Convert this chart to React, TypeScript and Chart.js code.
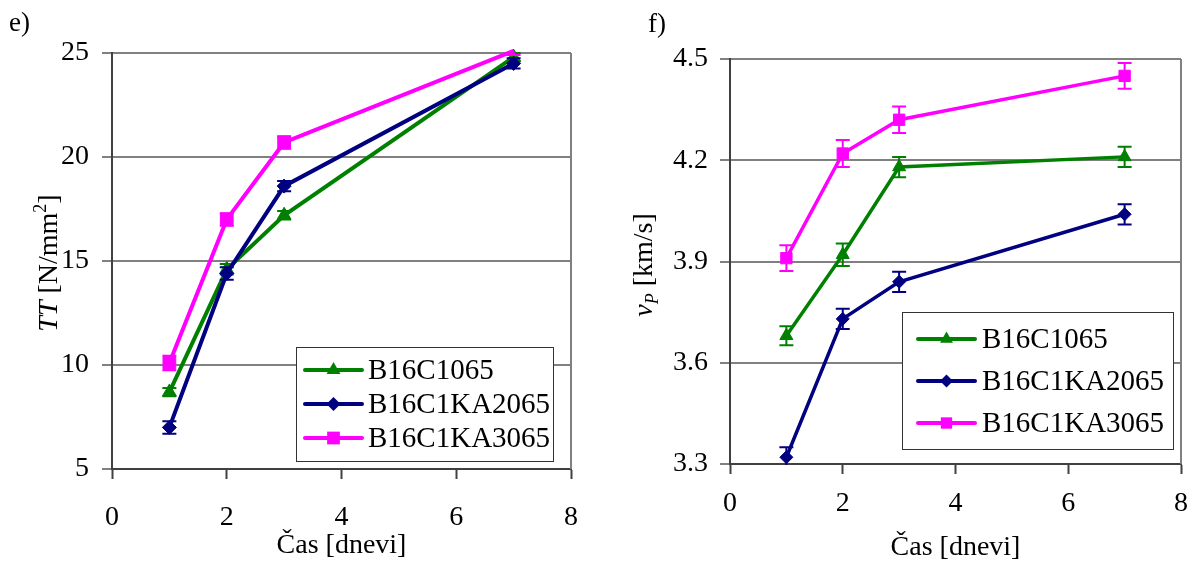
import React, { useEffect, useRef } from 'react';
import { Chart, registerables } from 'chart.js';

Chart.register(...registerables);

// ---------- data ----------
const days = [1, 2, 3, 7];
const seriesNames = ['B16C1065', 'B16C1KA2065', 'B16C1KA3065'];
const seriesColors = ['#008000', '#000080', '#FF00FF'];
const seriesMarkers = ['triangle', 'rectRot', 'rect'];

// e) TT [N/mm2]
const ttB16C1065 = [8.7, 14.6, 17.2, 24.8];
const ttB16C1KA2065 = [7.0, 14.4, 18.6, 24.5];
const ttB16C1KA3065 = [10.1, 17.0, 20.7, 25.1];
const ttErrB16C1065 = [0.2, 0.25, 0.2, 0.2];
const ttErrB16C1KA2065 = [0.3, 0.3, 0.25, 0.25];
const ttErrB16C1KA3065 = [0.35, 0.3, 0.3, 0.2];

// f) vP [km/s]
const vpB16C1065 = [3.68, 3.92, 4.18, 4.21];
const vpB16C1KA2065 = [3.32, 3.73, 3.84, 4.04];
const vpB16C1KA3065 = [3.91, 4.22, 4.32, 4.45];
const vpErrB16C1065 = [0.028, 0.033, 0.03, 0.03];
const vpErrB16C1KA2065 = [0.03, 0.03, 0.03, 0.03];
const vpErrB16C1KA3065 = [0.038, 0.04, 0.039, 0.038];

const xTicks = [0, 2, 4, 6, 8];
const ttTicks = [5, 10, 15, 20, 25];
const vpTicks = [3.3, 3.6, 3.9, 4.2, 4.5];
const xTitle = 'Čas [dnevi]';

// ---------- styling ----------
const FONT = '"Liberation Serif", "Times New Roman", serif';
const H = 562;
const GRID = '#808080';
const AXIS = '#404040';

type Part = { t: string; italic?: boolean; size: number; dy?: number };
type Spec = {
  width: number;
  area: { left: number; top: number; right: number; bottom: number };
  yMin: number;
  yMax: number;
  yTicks: number[];
  yFormat: (v: number) => string;
  series: { values: number[]; errors: number[] }[];
  lineWidth: number;
  pointRadius: number[];
  cap: number;
  xPad: number;
  yPad: number;
  panel: { text: string; x: number; y: number };
  xTitleY: number;
  yTitle: { x: number; y: number; parts: Part[] };
  legend: { left: number; top: number; right: number; bottom: number; rows: number[]; lineX0: number; lineX1: number; textX: number; r: number[] };
};

function drawMarker(ctx: CanvasRenderingContext2D, style: string, x: number, y: number, r: number, color: string) {
  ctx.save();
  ctx.fillStyle = color;
  ctx.beginPath();
  if (style === 'triangle') {
    for (let k = 0; k < 3; k++) {
      const a = (k * 2 * Math.PI) / 3;
      const px = x + Math.sin(a) * r;
      const py = y - Math.cos(a) * r;
      if (k === 0) ctx.moveTo(px, py); else ctx.lineTo(px, py);
    }
  } else if (style === 'rectRot') {
    ctx.moveTo(x, y - r);
    ctx.lineTo(x + r, y);
    ctx.lineTo(x, y + r);
    ctx.lineTo(x - r, y);
  } else {
    const s = r * Math.SQRT1_2;
    ctx.rect(x - s, y - s, 2 * s, 2 * s);
  }
  ctx.closePath();
  ctx.fill();
  ctx.restore();
}

function makeChart(canvas: HTMLCanvasElement, spec: Spec) {
  const errorBars = {
    id: 'errorBars',
    afterDatasetDraw(chart: any, args: any) {
      const ds = chart.data.datasets[args.index];
      const errs: number[] = ds.errors;
      const yScale = chart.scales.y;
      const ctx = chart.ctx;
      const ca = chart.chartArea;
      ctx.save();
      ctx.beginPath();
      ctx.rect(ca.left - 20, ca.top - 1, ca.right - ca.left + 40, ca.bottom - ca.top + 2);
      ctx.clip();
      ctx.strokeStyle = ds.borderColor;
      ctx.lineWidth = 2;
      args.meta.data.forEach((el: any, j: number) => {
        const v = ds.data[j].y;
        const yt = yScale.getPixelForValue(v + errs[j]);
        const yb = yScale.getPixelForValue(v - errs[j]);
        const x = el.x;
        ctx.beginPath();
        ctx.moveTo(x, yt);
        ctx.lineTo(x, yb);
        ctx.moveTo(x - spec.cap, yt);
        ctx.lineTo(x + spec.cap, yt);
        ctx.moveTo(x - spec.cap, yb);
        ctx.lineTo(x + spec.cap, yb);
        ctx.stroke();
      });
      ctx.restore();
    },
  };

  const frame = {
    id: 'frame',
    beforeDatasetsDraw(chart: any) {
      const { ctx, chartArea } = chart;
      ctx.save();
      ctx.strokeStyle = GRID;
      ctx.lineWidth = 2;
      ctx.beginPath();
      ctx.moveTo(chartArea.right, chartArea.top);
      ctx.lineTo(chartArea.right, chartArea.bottom);
      ctx.stroke();
      ctx.restore();
    },
  };

  const texts = {
    id: 'texts',
    afterDraw(chart: any) {
      const ctx: CanvasRenderingContext2D = chart.ctx;
      const ca = chart.chartArea;
      ctx.save();
      ctx.fillStyle = '#000';
      // panel label
      ctx.font = `27px ${FONT}`;
      ctx.textAlign = 'left';
      ctx.textBaseline = 'alphabetic';
      ctx.fillText(spec.panel.text, spec.panel.x, spec.panel.y);
      // x title
      ctx.font = `28px ${FONT}`;
      ctx.textAlign = 'center';
      ctx.fillText(xTitle, (ca.left + ca.right) / 2, spec.xTitleY);
      // y title (rotated, mixed styles)
      ctx.save();
      ctx.translate(spec.yTitle.x, spec.yTitle.y);
      ctx.rotate(-Math.PI / 2);
      ctx.textAlign = 'left';
      const fontOf = (p: Part) => `${p.italic ? 'italic ' : ''}${p.size}px ${FONT}`;
      let total = 0;
      spec.yTitle.parts.forEach((p) => {
        ctx.font = fontOf(p);
        total += ctx.measureText(p.t).width;
      });
      let cx = -total / 2;
      spec.yTitle.parts.forEach((p) => {
        ctx.font = fontOf(p);
        ctx.fillText(p.t, cx, p.dy || 0);
        cx += ctx.measureText(p.t).width;
      });
      ctx.restore();
      // legend
      const lg = spec.legend;
      ctx.fillStyle = '#fff';
      ctx.fillRect(lg.left, lg.top, lg.right - lg.left, lg.bottom - lg.top);
      ctx.strokeStyle = '#333';
      ctx.lineWidth = 1;
      ctx.strokeRect(lg.left + 0.5, lg.top + 0.5, lg.right - lg.left, lg.bottom - lg.top);
      seriesNames.forEach((name, i) => {
        const y = lg.rows[i];
        ctx.strokeStyle = seriesColors[i];
        ctx.lineWidth = 4;
        ctx.lineCap = 'round';
        ctx.beginPath();
        ctx.moveTo(lg.lineX0, y);
        ctx.lineTo(lg.lineX1, y);
        ctx.stroke();
        drawMarker(ctx, seriesMarkers[i], (lg.lineX0 + lg.lineX1) / 2, y, lg.r[i], seriesColors[i]);
        ctx.fillStyle = '#000';
        ctx.font = `29px ${FONT}`;
        ctx.textAlign = 'left';
        ctx.textBaseline = 'middle';
        ctx.fillText(name, lg.textX, y + 1);
      });
      ctx.restore();
    },
  };

  return new Chart(canvas, {
    type: 'line',
    data: {
      datasets: spec.series.map((s, i) => ({
        label: seriesNames[i],
        data: days.map((d, j) => ({ x: d, y: s.values[j] })),
        errors: s.errors,
        borderColor: seriesColors[i],
        backgroundColor: seriesColors[i],
        pointBackgroundColor: seriesColors[i],
        pointBorderColor: seriesColors[i],
        pointStyle: seriesMarkers[i],
        // markers of values beyond the axis maximum are not shown (as in the source)
        pointRadius: s.values.map((v) => (v > spec.yMax ? 0 : spec.pointRadius[i])),
        pointBorderWidth: 1,
        borderWidth: spec.lineWidth,
        tension: 0,
        clip: false,
        order: 3 - i,
      })) as any,
    },
    options: {
      animation: false,
      responsive: false,
      maintainAspectRatio: false,
      events: [],
      layout: {
        padding: { top: spec.area.top, right: spec.width - spec.area.right, left: 0, bottom: 0 },
      },
      plugins: { legend: { display: false }, tooltip: { enabled: false }, title: { display: false } },
      scales: {
        x: {
          type: 'linear',
          min: 0,
          max: 8,
          afterBuildTicks: (s: any) => {
            s.ticks = xTicks.map((v) => ({ value: v }));
          },
          afterFit: (s: any) => {
            s.height = H - spec.area.bottom;
          },
          grid: { drawOnChartArea: false, drawTicks: true, tickLength: 10, tickColor: AXIS, tickWidth: 2 },
          border: { color: AXIS, width: 2 },
          ticks: { font: { family: FONT, size: 28 }, color: '#000', padding: spec.xPad, maxRotation: 0, autoSkip: false },
        },
        y: {
          type: 'linear',
          min: spec.yMin,
          max: spec.yMax,
          afterBuildTicks: (s: any) => {
            s.ticks = spec.yTicks.map((v) => ({ value: v }));
          },
          afterFit: (s: any) => {
            s.width = spec.area.left;
          },
          grid: { color: GRID, lineWidth: 2, tickLength: 10, tickColor: GRID, tickWidth: 2 },
          border: { color: AXIS, width: 2 },
          ticks: {
            font: { family: FONT, size: 28 },
            color: '#000',
            padding: spec.yPad,
            autoSkip: false,
            callback: (v: any) => spec.yFormat(Number(v)),
          },
        },
      },
    } as any,
    plugins: [frame, errorBars, texts],
  });
}

const leftSpec: Spec = {
  width: 600,
  area: { left: 112, top: 53, right: 578, bottom: 469 },
  yMin: 5,
  yMax: 25,
  yTicks: ttTicks,
  yFormat: (v) => String(Math.round(v)),
  series: [
    { values: ttB16C1065, errors: ttErrB16C1065 },
    { values: ttB16C1KA2065, errors: ttErrB16C1KA2065 },
    { values: ttB16C1KA3065, errors: ttErrB16C1KA3065 },
  ],
  lineWidth: 4,
  pointRadius: [8, 7, 9],
  cap: 7,
  xPad: 22,
  yPad: 13,
  panel: { text: 'e)', x: 9, y: 31 },
  xTitleY: 553,
  yTitle: {
    x: 57,
    y: 263,
    parts: [
      { t: 'TT', italic: true, size: 28 },
      { t: ' [N/mm', size: 28 },
      { t: '2', size: 18, dy: -11 },
      { t: ']', size: 28 },
    ],
  },
  legend: { left: 296, top: 347, right: 553, bottom: 461, rows: [370, 404, 438], lineX0: 305, lineX1: 362, textX: 368, r: [8, 7, 9] },
};

const rightSpec: Spec = {
  width: 601,
  area: { left: 130, top: 59, right: 587, bottom: 464 },
  yMin: 3.3,
  yMax: 4.5,
  yTicks: vpTicks,
  yFormat: (v) => v.toFixed(1),
  series: [
    { values: vpB16C1065, errors: vpErrB16C1065 },
    { values: vpB16C1KA2065, errors: vpErrB16C1KA2065 },
    { values: vpB16C1KA3065, errors: vpErrB16C1KA3065 },
  ],
  lineWidth: 3.5,
  pointRadius: [7.5, 6.5, 8],
  cap: 7,
  xPad: 13,
  yPad: 12,
  panel: { text: 'f)', x: 48, y: 32 },
  xTitleY: 555,
  yTitle: {
    x: 52,
    y: 265,
    parts: [
      { t: 'v', italic: true, size: 28 },
      { t: 'P', italic: true, size: 18, dy: 6 },
      { t: ' [km/s]', size: 28 },
    ],
  },
  legend: { left: 302, top: 312, right: 573, bottom: 449, rows: [339, 381, 423], lineX0: 318, lineX1: 375, textX: 382, r: [7.5, 6.5, 8] },
};

function Panel({ spec, left }: { spec: Spec; left: number }) {
  const ref = useRef<HTMLCanvasElement>(null);
  useEffect(() => {
    if (!ref.current) return;
    const chart = makeChart(ref.current, spec);
    return () => chart.destroy();
  }, [spec]);
  return (
    <canvas
      ref={ref}
      width={spec.width}
      height={H}
      style={{ position: 'absolute', left, top: 0, width: spec.width, height: H }}
    />
  );
}

export default function App() {
  return (
    <div style={{ position: 'fixed', left: 0, top: 0, width: 1201, height: H, background: '#fff' }}>
      <Panel spec={leftSpec} left={0} />
      <Panel spec={rightSpec} left={600} />
    </div>
  );
}
